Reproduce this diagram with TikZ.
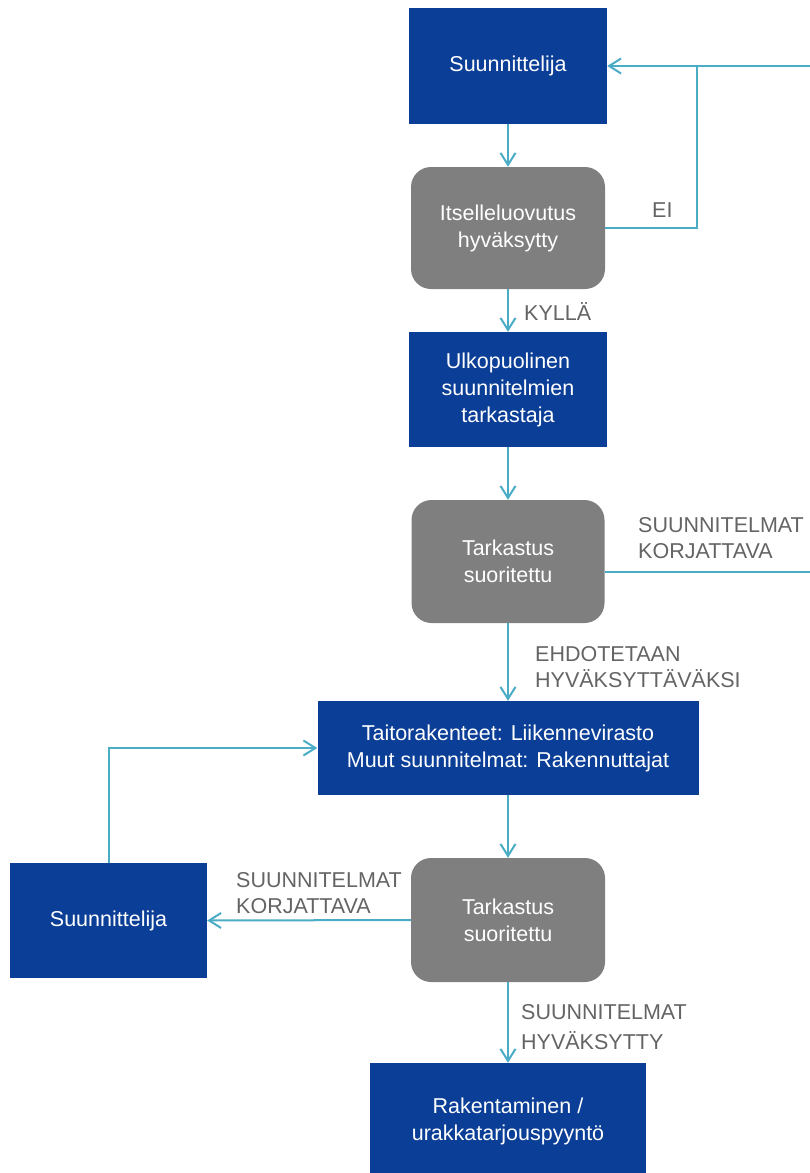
\documentclass[tikz,border=0pt]{standalone}
\usepackage{fontspec}
\setmainfont{Liberation Sans}
\usetikzlibrary{arrows.meta}
\definecolor{boxblue}{RGB}{11,62,150}
\definecolor{boxgray}{RGB}{127,127,127}
\definecolor{linecyan}{RGB}{75,172,198}
\definecolor{labelgray}{RGB}{100,100,100}
\begin{document}
\begin{tikzpicture}[x=1pt,y=-1pt,
  txt/.style={font=\fontsize{21.5}{27}\selectfont, align=center, inner sep=0pt},
  bluebox/.style={txt, fill=boxblue, text=white},
  graybox/.style={txt, fill=boxgray, text=white, rounded corners=20pt},
  lbl/.style={font=\fontsize{21.5}{26}\selectfont, text=labelgray, align=left, inner sep=0pt, anchor=west},
  conn/.style={draw=linecyan, line width=2pt},
  arr/.style={conn, -{Straight Barb[length=12pt,width=15pt]}}]
\useasboundingbox (0,0) rectangle (810,1173);
\clip (0,0) rectangle (810,1173);
% nodes
\node[bluebox, minimum width=198pt, minimum height=116pt] (S1) at (508,66) {Suunnittelija};
\node[graybox, minimum width=194pt, minimum height=122pt] (I) at (508,228) {Itselleluovutus\\hyväksytty};
\node[bluebox, minimum width=198pt, minimum height=115pt] (U) at (508,389.5) {Ulkopuolinen\\suunnitelmien\\tarkastaja};
\node[graybox, minimum width=193pt, minimum height=123pt] (T1) at (508,561.5) {Tarkastus\\suoritettu};
\node[bluebox, minimum width=381pt, minimum height=94pt] (TR) at (508,748) {Taitorakenteet: Liikennevirasto\\Muut suunnitelmat: Rakennuttajat};
\node[graybox, minimum width=194pt, minimum height=124pt] (T2) at (508,920) {Tarkastus\\suoritettu};
\node[bluebox, minimum width=197pt, minimum height=115pt] (S2) at (108.5,920.5) {Suunnittelija};
\node[bluebox, minimum width=276pt, minimum height=116pt] (R) at (508,1121) {Rakentaminen /\\urakkatarjouspyyntö};
% helper coordinates (loop continues beyond the right edge)
\coordinate (J) at (697,66);
\coordinate (R1) at (816,66);
\coordinate (R2) at (816,572);
% connectors
\draw[arr] (S1.south) -- (I.north);
\draw[conn] (I.east) -| (J);
\draw[conn] (T1.east |- R2) -- (R2);
\draw[arr] (R1) -- (S1.east);
\draw[arr] (I.south) -- (U.north);
\draw[arr] (U.south) -- (T1.north);
\draw[arr] (T1.south) -- (TR.north);
\draw[arr] (TR.south) -- (T2.north);
\draw[arr] (T2.west) -- (S2.east);
\draw[arr] (S2.north) |- (TR.west);
\draw[arr] (T2.south) -- (R.north);
% labels
\node[lbl] (lEI) at (652,210) {EI};
\node[lbl] (lKY) at (524,311) {KYLLÄ};
\node[lbl] (lSK1) at (638,538) {SUUNNITELMAT\\KORJATTAVA};
\node[lbl] (lEH) at (535,667) {EHDOTETAAN\\HYVÄKSYTTÄVÄKSI};
\node[lbl] (lSK2) at (236,893) {SUUNNITELMAT\\KORJATTAVA};
\node[lbl, font=\fontsize{21.5}{30}\selectfont] (lSH) at (521,1027) {SUUNNITELMAT\\HYVÄKSYTTY};
\end{tikzpicture}
\end{document}
